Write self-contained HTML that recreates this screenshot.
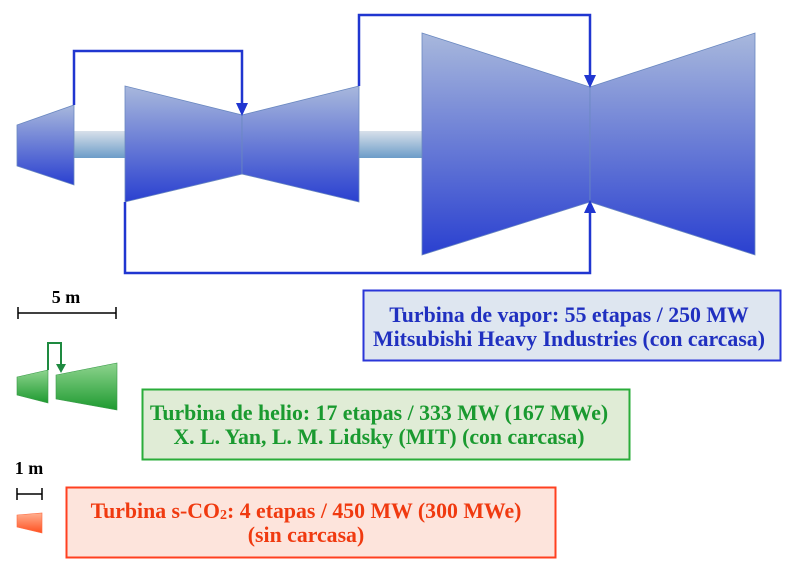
<!DOCTYPE html>
<html><head><meta charset="utf-8"><style>
html,body{margin:0;padding:0;background:#fff;width:800px;height:581px;overflow:hidden}
svg text{font-family:"Liberation Serif",serif;font-weight:bold}
</style></head><body>
<svg width="800" height="581" viewBox="0 0 800 581" xmlns="http://www.w3.org/2000/svg">
<defs>
<linearGradient id="b" x1="0" y1="0" x2="0" y2="1"><stop offset="0" stop-color="#a8b8dc"/><stop offset="1" stop-color="#2a40d0"/></linearGradient>
<linearGradient id="bb" gradientUnits="userSpaceOnUse" x1="0" y1="33" x2="0" y2="255"><stop offset="0" stop-color="#a8b8dc"/><stop offset="1" stop-color="#2a40d0"/></linearGradient>
<linearGradient id="s" x1="0" y1="0" x2="0" y2="1"><stop offset="0" stop-color="#d8e0ea"/><stop offset="1" stop-color="#6c9cc8"/></linearGradient>
<linearGradient id="g" x1="0" y1="0" x2="0" y2="1"><stop offset="0" stop-color="#8ed48e"/><stop offset="1" stop-color="#1e9a30"/></linearGradient>
<linearGradient id="o" x1="0" y1="0" x2="0" y2="1"><stop offset="0" stop-color="#ffb090"/><stop offset="1" stop-color="#ff5020"/></linearGradient>
</defs>
<rect x="74" y="131" width="52" height="27" fill="url(#s)"/>
<rect x="359" y="131" width="64" height="27" fill="url(#s)"/>
<polygon points="17,125 74,105 74,185 17,166" fill="url(#b)" stroke="#6a88c0" stroke-width="0.8"/>
<polygon points="125,86 242,115 242,174 125,202" fill="url(#b)" stroke="#6a88c0" stroke-width="0.8"/>
<polygon points="242,115 359,86 359,202 242,174" fill="url(#b)" stroke="#6a88c0" stroke-width="0.8"/>
<polygon points="422,33 590,87 590,202 422,255" fill="url(#bb)" stroke="#6a88c0" stroke-width="0.8"/>
<polygon points="590,87 755,33 755,255 590,202" fill="url(#bb)" stroke="#6a88c0" stroke-width="0.8"/>
<g fill="none" stroke="#2036d0" stroke-width="2.5">
<polyline points="74,105 74,51 242,51 242,104"/>
<polyline points="359,86 359,15 590,15 590,77"/>
<polyline points="125,202 125,273 590,273 590,212"/>
</g>
<g fill="#2036d0">
<polygon points="236,103 248,103 242,116"/>
<polygon points="584,75 596,75 590,88"/>
<polygon points="584,213 596,213 590,200"/>
</g>
<text x="66" y="303" font-size="18" text-anchor="middle" fill="#000">5 m</text>
<g stroke="#000" stroke-width="1.5"><line x1="18" y1="313" x2="116" y2="313"/><line x1="18" y1="307" x2="18" y2="319"/><line x1="116" y1="307" x2="116" y2="319"/></g>
<polygon points="17,377 48,370 48,403 17,395" fill="url(#g)" stroke="#3a9a4a" stroke-width="0.6"/>
<polygon points="56,375 117,363 117,410 56,399" fill="url(#g)" stroke="#3a9a4a" stroke-width="0.6"/>
<polyline points="48,370 48,343 61,343 61,365" fill="none" stroke="#1e8a40" stroke-width="2"/>
<polygon points="56,364 66,364 61,373" fill="#1e8a40"/>
<text x="29" y="474" font-size="18" text-anchor="middle" fill="#000">1 m</text>
<g stroke="#000" stroke-width="1.5"><line x1="17" y1="494" x2="42" y2="494"/><line x1="17" y1="488" x2="17" y2="500"/><line x1="42" y1="488" x2="42" y2="500"/></g>
<polygon points="17,515 42,513 42,533 17,527" fill="url(#o)" stroke="#ff6a40" stroke-width="0.6"/>
<rect x="363.5" y="290.5" width="417" height="70" fill="#dee6f0" stroke="#2a36d8" stroke-width="2"/>
<text x="569" y="322" font-size="21.8" text-anchor="middle" fill="#2030c0">Turbina de vapor: 55 etapas / 250 MW</text>
<text x="569" y="346" font-size="21.8" text-anchor="middle" fill="#2030c0">Mitsubishi Heavy Industries (con carcasa)</text>
<rect x="142.5" y="389.5" width="487" height="70" fill="#e0ecd6" stroke="#2aac3a" stroke-width="2"/>
<text x="379" y="420" font-size="21.8" text-anchor="middle" fill="#1a9a30">Turbina de helio: 17 etapas / 333 MW (167 MWe)</text>
<text x="379" y="444" font-size="21.8" text-anchor="middle" fill="#1a9a30">X. L. Yan, L. M. Lidsky (MIT) (con carcasa)</text>
<rect x="66.5" y="487.5" width="489" height="70" fill="#fde4dc" stroke="#ff4020" stroke-width="2"/>
<text x="306" y="518" font-size="21.8" text-anchor="middle" fill="#f03a10">Turbina s-CO<tspan font-size="14" dy="1">2</tspan><tspan dy="-1">: 4 etapas / 450 MW (300 MWe)</tspan></text>
<text x="306" y="542" font-size="21.8" text-anchor="middle" fill="#f03a10">(sin carcasa)</text>
</svg>
</body></html>
